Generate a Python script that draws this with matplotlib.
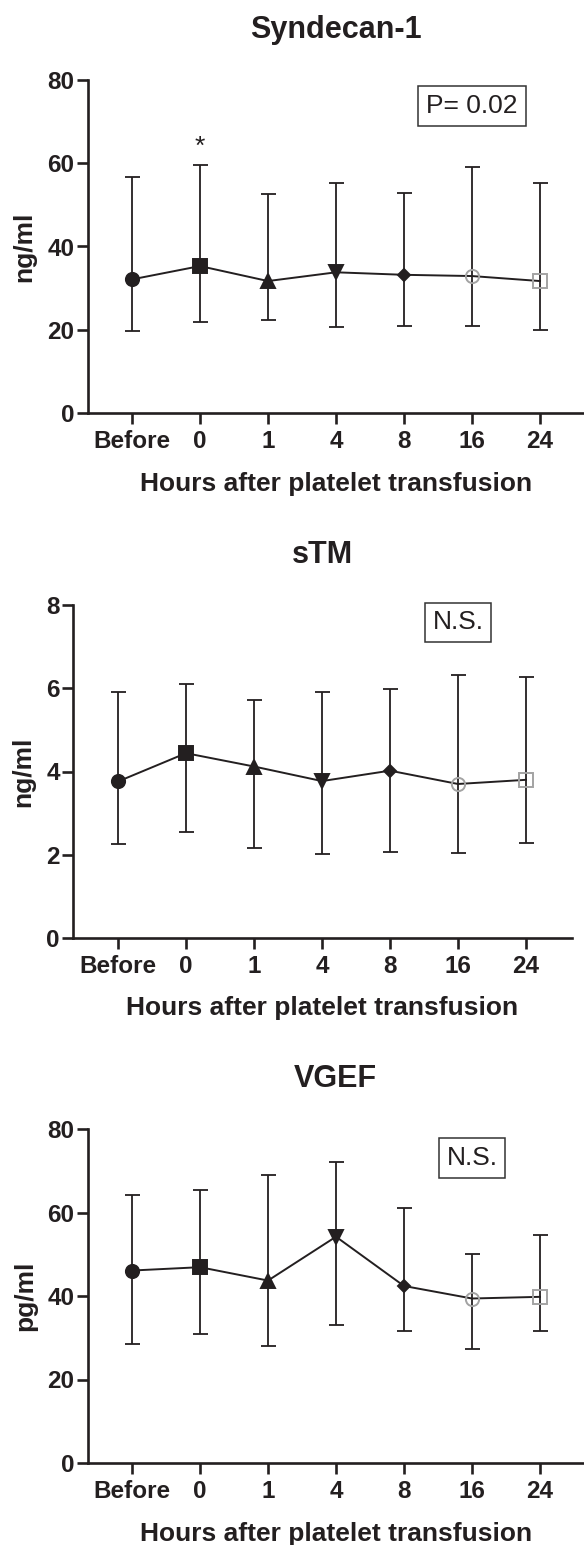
import matplotlib
matplotlib.use('Agg')
import matplotlib.pyplot as plt
import numpy as np

plt.rcParams['font.family'] = ['Liberation Sans', 'DejaVu Sans']
plt.rcParams['font.weight'] = 'bold'

# ---------------- data ----------------
categories = ['Before', '0', '1', '4', '8', '16', '24']

syn_mean = [32.1, 35.3, 31.7, 33.8, 33.2, 32.9, 31.7]
syn_upper = [56.6, 59.6, 52.7, 55.2, 52.9, 59.0, 55.3]
syn_lower = [19.7, 21.8, 22.4, 20.7, 21.0, 20.8, 20.0]

stm_mean = [3.76, 4.44, 4.12, 3.77, 4.02, 3.70, 3.80]
stm_upper = [5.90, 6.11, 5.72, 5.90, 5.98, 6.32, 6.28]
stm_lower = [2.26, 2.54, 2.16, 2.02, 2.06, 2.04, 2.28]

vgef_mean = [46.1, 46.9, 43.7, 54.2, 42.4, 39.4, 39.8]
vgef_upper = [64.2, 65.4, 69.0, 72.2, 61.0, 50.0, 54.6]
vgef_lower = [28.6, 31.0, 28.0, 33.0, 31.7, 27.3, 31.7]

titles = ['Syndecan-1', 'sTM', 'VGEF']
ylabels = ['ng/ml', 'ng/ml', 'pg/ml']
annotations = ['P= 0.02', 'N.S.', 'N.S.']
yticks_list = [[0, 20, 40, 60, 80], [0, 2, 4, 6, 8], [0, 20, 40, 60, 80]]

# ---------------- style ----------------
W, H = 584, 1545
DARK = '#231f20'
GRAY = '#a3a3a3'
markers = ['o', 's', '^', 'v', 'D', 'o', 's']
msizes = [9.5, 9.5, 9.5, 9.5, 6, 9.5, 9.5]
mfcs = [DARK, DARK, DARK, DARK, DARK, 'none', 'none']
mecs = [DARK, DARK, DARK, DARK, DARK, GRAY, GRAY]

fig = plt.figure(figsize=(W / 100, H / 100), dpi=100)


def rect(l, t, r, b):
    return [l / W, 1 - b / H, (r - l) / W, (b - t) / H]


layouts = [
    dict(box=(87.5, 80, 584, 413), x0=132, ylab_x=24, ann=(5, 73.8)),
    dict(box=(73, 605, 572, 938), x0=118, ylab_x=23.5, ann=(5, 7.58)),
    dict(box=(87.5, 1129, 584, 1463), x0=132, ylab_x=25, ann=(5, 73.0)),
]
spacing = 68.0

series = [
    (syn_mean, syn_lower, syn_upper),
    (stm_mean, stm_lower, stm_upper),
    (vgef_mean, vgef_lower, vgef_upper),
]

x = np.arange(len(categories))

for i, (lay, (mean, lower, upper)) in enumerate(zip(layouts, series)):
    l, t, r, b = lay['box']
    ax = fig.add_axes(rect(l, t, r, b))
    mean = np.array(mean)
    lower = np.array(lower)
    upper = np.array(upper)

    ax.plot(x, mean, color=DARK, lw=1.4, zorder=2)
    ax.errorbar(x, mean, yerr=[mean - lower, upper - mean], fmt='none',
                ecolor=DARK, elinewidth=1.3, capsize=5.4, capthick=1.3,
                zorder=2)
    for xi, mi, mk, ms, fc, ec in zip(x, mean, markers, msizes, mfcs, mecs):
        ax.plot([xi], [mi], marker=mk, ms=ms, mfc=fc, mec=ec,
                mew=1.4, linestyle='none', zorder=3)

    left_lim = -(lay['x0'] - l) / spacing
    right_lim = 6 + (r - (lay['x0'] + 6 * spacing)) / spacing
    ax.set_xlim(left_lim, right_lim)
    yt = yticks_list[i]
    ax.set_ylim(yt[0], yt[-1])
    ax.set_yticks(yt)
    ax.set_xticks(x)
    ax.set_xticklabels(categories)

    for side in ['top', 'right']:
        ax.spines[side].set_visible(False)
    for side in ['left', 'bottom']:
        ax.spines[side].set_linewidth(1.9)
        ax.spines[side].set_color(DARK)
        ax.spines[side].set_capstyle('projecting')

    ax.tick_params(axis='both', length=8, width=1.9, color=DARK,
                   labelsize=17.5, labelcolor=DARK, direction='out')
    ax.tick_params(axis='y', pad=1.5)
    ax.tick_params(axis='x', pad=4.5)

    ax.set_title(titles[i], fontsize=22, fontweight='bold', color=DARK,
                 pad=30.5)

    ax.set_xlabel('Hours after platelet transfusion', fontsize=19,
                  fontweight='bold', color=DARK, va='baseline')
    ax.xaxis.set_label_coords(0.5, -77.5 / (b - t))

    ax.set_ylabel(ylabels[i], fontsize=19, fontweight='bold', color=DARK,
                  va='center', ha='center')
    ax.yaxis.set_label_coords((lay['ylab_x'] - l) / (r - l), 0.5)

    axx, axy = lay['ann']
    ax.text(axx, axy, annotations[i], ha='center', va='center', fontsize=19,
            fontweight='normal', color=DARK,
            bbox=dict(boxstyle='square,pad=0.3', fc='white', ec='#333333',
                      lw=1.1))

    if i == 0:
        ax.text(1, 63.9, '*', ha='center', va='center', fontsize=19,
                fontweight='normal', color=DARK)

fig.savefig('out.png', dpi=100, facecolor='white')
